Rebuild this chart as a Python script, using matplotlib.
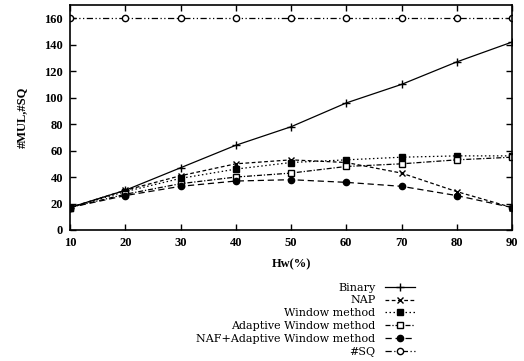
import matplotlib
matplotlib.use("Agg")
import matplotlib.pyplot as plt

# --- data --------------------------------------------------------------------
hw = [10, 20, 30, 40, 50, 60, 70, 80, 90]
binary = [17, 30, 47, 64, 78, 96, 110, 127, 142]
naf = [17, 30, 41, 50, 53, 51, 43, 29, 17]
window = [17, 29, 39, 46, 51, 53, 55, 56, 56]
adaptive = [17, 27, 35, 40, 43, 48, 50, 53, 55]
naf_adaptive = [17, 26, 33, 37, 38, 36, 33, 26, 17]
sq = [160, 160, 160, 160, 160, 160, 160, 160, 160]

labels = ["Binary", "NAP", "Window method", "Adaptive Window method",
          "NAF+Adaptive Window method", "#SQ"]

plt.rcParams["font.family"] = ["Liberation Serif", "DejaVu Serif"]
plt.rcParams["font.size"] = 9

fig = plt.figure(figsize=(5.24, 3.61), dpi=100)
ax = fig.add_axes([70 / 524, 1 - 230 / 361, 442 / 524, 225 / 361])

lw = 0.9
ms = 4.5
ax.plot(hw, binary, color="black", lw=lw, ls="-", marker="+", ms=ms + 1, label=labels[0])
ax.plot(hw, naf, color="black", lw=lw, ls=(0, (3, 2)), marker="x", ms=ms, label=labels[1])
ax.plot(hw, window, color="black", lw=lw, ls=(0, (1.2, 2)), marker="s", ms=ms,
        mfc="black", label=labels[2])
ax.plot(hw, adaptive, color="black", lw=lw, ls=(0, (4, 1.5, 1, 1.5)), marker="s", ms=ms,
        mfc="white", label=labels[3])
ax.plot(hw, naf_adaptive, color="black", lw=lw, ls=(0, (5, 3)), marker="o", ms=ms,
        mfc="black", label=labels[4])
ax.plot(hw, sq, color="black", lw=lw, ls=(0, (5, 2, 1, 2, 1, 2)), marker="o", ms=ms,
        mfc="white", label=labels[5])

ax.set_xlim(10, 90)
ax.set_ylim(0, 170)
ax.set_xticks(hw)
ax.set_yticks(range(0, 161, 20))
ax.tick_params(direction="in", top=True, right=True, length=4, width=1,
               labelsize=9, pad=5)
for lab in ax.get_xticklabels() + ax.get_yticklabels():
    lab.set_fontweight("bold")
for s in ax.spines.values():
    s.set_linewidth(1.2)

ax.set_xlabel("Hw(%)", fontweight="bold", labelpad=7)
ax.set_ylabel("#MUL,#SQ", fontweight="bold", labelpad=12)

fig.legend(loc="upper right", bbox_to_anchor=(421 / 524, 1 - 277 / 361),
           frameon=False, markerfirst=False, handlelength=2.7, handletextpad=0.9,
           labelspacing=0.26, borderpad=0,
           prop={"family": "DejaVu Serif", "size": 8})

fig.savefig("out.png", dpi=100)
